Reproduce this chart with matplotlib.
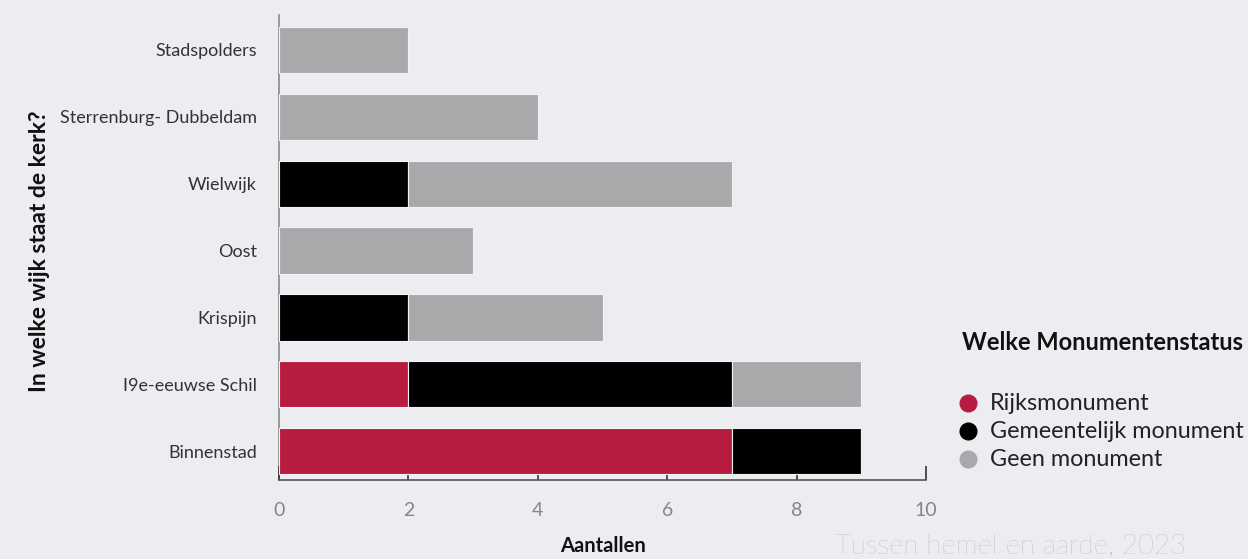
import matplotlib.pyplot as plt
from matplotlib.lines import Line2D
import numpy as np

# data (bottom to top)
wijken = ["Binnenstad", "I9e-eeuwse Schil", "Krispijn", "Oost", "Wielwijk",
          "Sterrenburg- Dubbeldam", "Stadspolders"]
rijks = np.array([7, 2, 0, 0, 0, 0, 0])
gemeentelijk = np.array([2, 5, 2, 0, 2, 0, 0])
geen = np.array([0, 2, 3, 3, 5, 4, 2])

series = ["Rijksmonument", "Gemeentelijk monument", "Geen monument"]
colors = ["#b81b40", "#000000", "#a7a9ab"]
bg = "#ebedf0"

plt.rcParams['font.family'] = ['Lato', 'DejaVu Sans']

fig = plt.figure(figsize=(12.48, 5.59), dpi=100, facecolor=bg)
ax = fig.add_axes([0.2236, 0.1413, 0.5184, 0.8317])
ax.set_facecolor(bg)

y = np.arange(len(wijken))
left = np.zeros(len(wijken))
for vals, col in zip([rijks, gemeentelijk, geen], colors):
    ax.barh(y, vals, left=left, height=0.69, color=col,
            edgecolor="#f2f2f2", linewidth=0.8, zorder=3)
    left = left + vals

ax.set_xlim(0, 10)
ax.set_ylim(-0.43, 6.52)
ax.set_xticks(range(0, 11, 2))
ax.set_yticks(y)
ax.set_yticklabels(wijken, fontsize=13, color="#333333")
ax.tick_params(axis="y", length=0, pad=16)
ax.tick_params(axis="x", direction="in", length=10, width=1.2, color="#333333",
               labelsize=14, labelcolor="#858585", pad=16)

for s in ["top", "right"]:
    ax.spines[s].set_visible(False)
ax.spines["left"].set_color("#8a8a8a")
ax.spines["left"].set_linewidth(1.2)
ax.spines["left"].set_zorder(1)
ax.spines["bottom"].set_color("#555555")
ax.spines["bottom"].set_linewidth(1.2)

ax.set_xlabel("Aantallen", fontsize=14.5, fontweight="bold", color="#111111", labelpad=12)
fig.text(0.032, 0.55, "In welke wijk staat de kerk?", rotation=90, fontsize=16.5,
         fontweight="bold", color="#111111", ha="center", va="center")

# legend, placed by hand
fig.text(0.771, 0.388, "Welke Monumentenstatus", fontsize=17, fontweight="bold",
         color="#111111", ha="left", va="center")
for i, (name, col) in enumerate(zip(series, colors)):
    yy = 0.279 - i * 0.0505
    fig.add_artist(Line2D([0.7756], [yy], marker="o", linestyle="", markersize=12,
                          markerfacecolor=col, markeredgecolor=col,
                          transform=fig.transFigure))
    fig.text(0.793, yy, name, fontsize=16.8, color="#222222", ha="left", va="center")

fig.text(0.669, 0.0, "Tussen hemel en aarde, 2023", fontsize=20, fontweight="light",
         color="#ababab", ha="left", va="bottom")

fig.savefig("out.png", dpi=100, facecolor=bg)
